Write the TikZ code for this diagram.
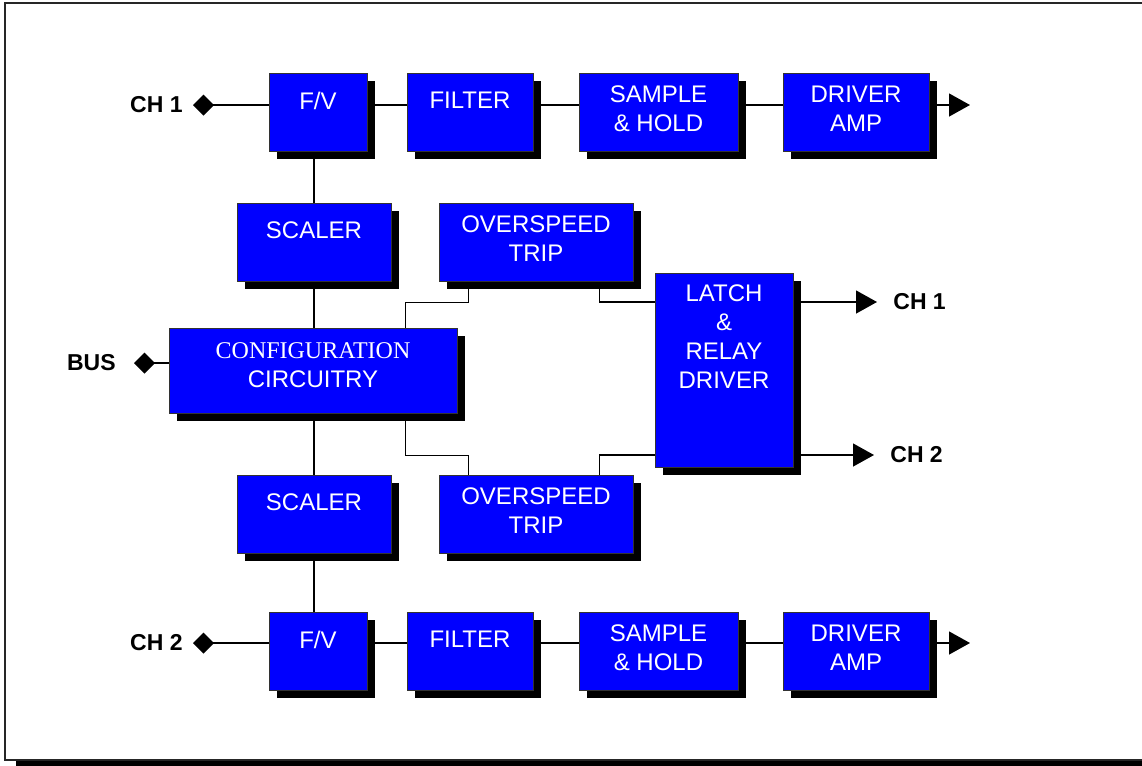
\documentclass[tikz,border=0pt]{standalone}
\usepackage{fontspec}
\setmainfont{Liberation Sans}
\newfontfamily\timesfont{Liberation Serif}
\usetikzlibrary{positioning,arrows.meta,shapes,shadows,backgrounds}
\newcommand{\blockfont}{\fontsize{12}{14.5}\selectfont}
\begin{document}
\begin{tikzpicture}[
          x=0.5pt,y=-0.5pt,
          box/.style={draw=black!80,line width=0.5pt,fill=blue,
                      minimum height=39pt,inner sep=0pt,
                      drop shadow={shadow xshift=4pt,shadow yshift=-4pt,
                                   opacity=1,fill=black}},
          txt/.style={anchor=north,inner sep=0pt,text=white,
                      font=\blockfont,align=center},
          sig/.style={inner sep=0pt,font=\fontsize{11.5}{13}\selectfont\bfseries},
          wire/.style={line width=0.65pt,black},
          src/.style={wire,arrows={Diamond[length=10.5pt,width=10.5pt]-}},
          outarr/.style={wire,arrows={-Triangle[length=10.5pt,width=11.5pt]}}]
        \useasboundingbox (0,0) rectangle (1142,766);
        % frame
        \draw[line width=1pt,black!85] (5,3) rectangle (1150,760);
        \fill[black] (16,761) rectangle (1150,766);
        % top channel
        \node[box,minimum width=49pt,label={[txt,yshift=-9.5pt]north:F/V}] (fv1) at (318,112) {};
        \node[box,minimum width=63pt,label={[txt,yshift=-9.5pt]north:FILTER}] (flt1) at (470,112) {};
        \node[box,minimum width=79.5pt,label={[txt,yshift=-6.5pt]north:SAMPLE\\\& HOLD}] (sh1) at (658.5,112) {};
        \node[box,minimum width=73pt,label={[txt,yshift=-6.5pt]north:DRIVER\\AMP}] (drv1) at (856,112) {};
        % bottom channel
        \node[box,minimum width=49pt,label={[txt,yshift=-9.5pt]north:F/V}] (fv2) at (318,651) {};
        \node[box,minimum width=63pt,label={[txt,yshift=-9.5pt]north:FILTER}] (flt2) at (470,651) {};
        \node[box,minimum width=79.5pt,label={[txt,yshift=-6.5pt]north:SAMPLE\\\& HOLD}] (sh2) at (658.5,651) {};
        \node[box,minimum width=73pt,label={[txt,yshift=-6.5pt]north:DRIVER\\AMP}] (drv2) at (856,651) {};
        % middle part
        \node[box,minimum width=77pt,label={[txt,yshift=-9.5pt]north:SCALER}] (sc1) at (314,242) {};
        \node[box,minimum width=77pt,label={[txt,yshift=-9.5pt]north:SCALER}] (sc2) at (314,514) {};
        \node[box,minimum width=97pt,label={[txt,yshift=-6.5pt]north:OVERSPEED\\TRIP}] (ot1) at (536,242) {};
        \node[box,minimum width=97pt,label={[txt,yshift=-6.5pt]north:OVERSPEED\\TRIP}] (ot2) at (536,514) {};
        \node[box,minimum width=144pt,minimum height=42.5pt,
              label={[txt,yshift=-7.5pt]north:{\timesfont CONFIGURATION}\\CIRCUITRY}] (cfg) at (313,370.5) {};
        \node[box,minimum width=69pt,minimum height=97pt,
              label={[txt,yshift=-6pt]north:LATCH\\\&\\RELAY\\DRIVER}] (latch) at (724,370) {};
        % terminals
        \coordinate (d1) at (193,105);
        \coordinate (d2) at (193,643);
        \coordinate (d3) at (134,363);
        \coordinate (o1) at (970,105);
        \coordinate (o2) at (970,643);
        \coordinate (o3) at (877,302);
        \coordinate (o4) at (874,455);
        \node[sig,anchor=east,left=5pt of d1] (ch1in) {CH 1};
        \node[sig,anchor=east,left=5pt of d2] (ch2in) {CH 2};
        \node[sig,anchor=east,left=9pt of d3] (bus) {BUS};
        \node[sig,anchor=west,right=8pt of o3] (ch1out) {CH 1};
        \node[sig,anchor=west,right=8pt of o4] (ch2out) {CH 2};
        \begin{scope}[on background layer]
          \draw[src] (d1) -- (fv1.west |- d1);
          \draw[wire] (fv1.east |- d1) -- (flt1.west |- d1);
          \draw[wire] (flt1.east |- d1) -- (sh1.west |- d1);
          \draw[wire] (sh1.east |- d1) -- (drv1.west |- d1);
          \draw[outarr] (drv1.east |- o1) -- (o1);
          \draw[src] (d2) -- (fv2.west |- d2);
          \draw[wire] (fv2.east |- d2) -- (flt2.west |- d2);
          \draw[wire] (flt2.east |- d2) -- (sh2.west |- d2);
          \draw[wire] (sh2.east |- d2) -- (drv2.west |- d2);
          \draw[outarr] (drv2.east |- o2) -- (o2);
          \draw[src] (d3) -- (cfg.west |- d3);
          \draw[wire] (sc1.north |- fv1.south) -- (sc1.north);
          \draw[wire] (sc1.south) -- (sc1.south |- cfg.north);
          \draw[wire] (sc2.north |- cfg.south) -- (sc2.north);
          \draw[wire] (sc2.south) -- (sc2.south |- fv2.north);
          \draw[wire] ([xshift=15pt]ot1.south west) -- ++(0,21) -| ([xshift=-26pt]cfg.north east);
          \draw[wire] ([xshift=-17pt]ot1.south east) |- (latch.west |- o3);
          \draw[wire] ([xshift=-26pt]cfg.south east) -- ++(0,42) -| ([xshift=15pt]ot2.north west);
          \draw[wire] ([xshift=-17pt]ot2.north east) |- (latch.west |- o4);
          \draw[outarr] (latch.east |- o3) -- (o3);
          \draw[outarr] (latch.east |- o4) -- (o4);
        \end{scope}
      \end{tikzpicture}
\end{document}
